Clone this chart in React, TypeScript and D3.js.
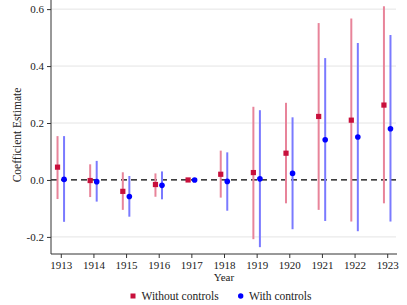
import {useEffect, useRef} from 'react';
import * as d3 from 'd3';

// data
const years = [1913, 1914, 1915, 1916, 1917, 1918, 1919, 1920, 1921, 1922, 1923];
const estNoCtrl = [0.045, -0.002, -0.04, -0.016, 0.0, 0.02, 0.026, 0.094, 0.223, 0.21, 0.263];
const loNoCtrl = [-0.067, -0.06, -0.105, -0.059, 0.0, -0.062, -0.208, -0.082, -0.105, -0.146, -0.082];
const hiNoCtrl = [0.154, 0.055, 0.027, 0.023, 0.0, 0.103, 0.257, 0.271, 0.551, 0.567, 0.61];
const estCtrl = [0.002, -0.006, -0.058, -0.019, 0.0, -0.005, 0.004, 0.023, 0.141, 0.151, 0.18];
const loCtrl = [-0.147, -0.076, -0.129, -0.068, 0.0, -0.108, -0.236, -0.173, -0.144, -0.18, -0.146];
const hiCtrl = [0.154, 0.067, 0.014, 0.03, 0.0, 0.097, 0.245, 0.22, 0.428, 0.481, 0.509];
const yTicks = [-0.2, 0.0, 0.2, 0.4, 0.6];

// parameters
const width = 407;
const height = 305;
const left = 51;
const right = 397;
const top = 0;
const bottom = 254;
const offset = 0.1;
const font = '"Liberation Serif", serif';
const red = '#c8103c';
const blue = '#0000ff';

export default function App() {
  const ref = useRef(null);
  useEffect(() => {
    if (!ref.current)
      return;
    const svg = d3.select(ref.current);
    svg.selectAll('*').remove();

    const x = d3.scaleLinear().domain([1912.7, 1923.3]).range([left, right]);
    const y = d3.scaleLinear().domain([-0.26, 0.632]).range([bottom, top]);

    // grid
    svg.append('g')
      .selectAll('line')
      .data(yTicks.filter(t => t !== 0))
      .enter()
      .append('line')
      .attr('x1', left)
      .attr('x2', right - 1)
      .attr('y1', d => y(d))
      .attr('y2', d => y(d))
      .attr('stroke', '#e4e4e4')
      .attr('stroke-width', 1);

    // zero line
    svg.append('line')
      .attr('x1', left)
      .attr('x2', right - 1)
      .attr('y1', y(0))
      .attr('y2', y(0))
      .attr('stroke', '#000')
      .attr('stroke-width', 1.2)
      .attr('stroke-dasharray', '6,4');

    // axes
    const yAxis = svg.append('g')
      .attr('transform', `translate(${left},0)`)
      .call(d3.axisLeft(y).tickValues(yTicks).tickFormat(d3.format('.1f')).tickSize(4).tickSizeOuter(0));
    yAxis.select('.domain').attr('stroke', '#333').attr('d', `M0,${top}V${bottom}`);
    yAxis.selectAll('.tick line').attr('stroke', '#333');
    yAxis.selectAll('text')
      .attr('font-family', font)
      .attr('font-size', 11)
      .attr('fill', '#222')
      .text(d => d3.format('.1f')(d as number).replace('−', '-'));

    const xAxis = svg.append('g')
      .attr('transform', `translate(0,${bottom})`)
      .call(d3.axisBottom(x).tickValues(years).tickFormat(d3.format('d')).tickSize(4).tickSizeOuter(0));
    xAxis.select('.domain').attr('stroke', '#333').attr('d', `M${left},0H${right}`);
    xAxis.selectAll('.tick line').attr('stroke', '#333');
    xAxis.selectAll('text')
      .attr('font-family', font)
      .attr('font-size', 11)
      .attr('fill', '#222')
      .attr('y', 15)
      .attr('dy', null);

    // confidence intervals
    const ci = (lo: number[], hi: number[], dx: number, color: string) => {
      svg.append('g')
        .selectAll('line')
        .data(years.map((yr, i) => ({yr, lo: lo[i], hi: hi[i]})).filter(d => d.hi !== d.lo))
        .enter()
        .append('line')
        .attr('x1', d => x(d.yr + dx))
        .attr('x2', d => x(d.yr + dx))
        .attr('y1', d => y(d.lo))
        .attr('y2', d => y(d.hi))
        .attr('stroke', color)
        .attr('stroke-width', 2);
    };
    ci(loNoCtrl, hiNoCtrl, -offset, '#e8849a');
    ci(loCtrl, hiCtrl, offset, '#7a7aff');

    // markers
    svg.append('g')
      .selectAll('rect')
      .data(years.map((yr, i) => ({yr, v: estNoCtrl[i]})))
      .enter()
      .append('rect')
      .attr('x', d => x(d.yr - offset) - 2.6)
      .attr('y', d => y(d.v) - 2.6)
      .attr('width', 5.2)
      .attr('height', 5.2)
      .attr('fill', red);
    svg.append('g')
      .selectAll('circle')
      .data(years.map((yr, i) => ({yr, v: estCtrl[i]})))
      .enter()
      .append('circle')
      .attr('cx', d => x(d.yr + offset))
      .attr('cy', d => y(d.v))
      .attr('r', 2.8)
      .attr('fill', blue);

    // titles
    svg.append('text')
      .attr('x', (left + right) / 2)
      .attr('y', 281)
      .attr('text-anchor', 'middle')
      .attr('font-family', font)
      .attr('font-size', 11)
      .attr('fill', '#222')
      .text('Year');
    svg.append('text')
      .attr('transform', `translate(21,${(top + bottom) / 2 + 8}) rotate(-90)`)
      .attr('text-anchor', 'middle')
      .attr('font-family', font)
      .attr('font-size', 11.5)
      .attr('fill', '#222')
      .text('Coefficient Estimate');

    // legend
    const legend = svg.append('g').attr('transform', 'translate(0,296)');
    legend.append('rect')
      .attr('x', 130.5).attr('y', -2.5).attr('width', 5).attr('height', 5).attr('fill', red);
    legend.append('text')
      .attr('x', 141.5).attr('y', 3.8)
      .attr('font-family', font).attr('font-size', 11.5).attr('fill', '#222')
      .text('Without controls');
    legend.append('circle')
      .attr('cx', 240.7).attr('cy', 0).attr('r', 2.7).attr('fill', blue);
    legend.append('text')
      .attr('x', 249).attr('y', 3.8)
      .attr('font-family', font).attr('font-size', 11.5).attr('fill', '#222')
      .text('With controls');
  }, [ref]);
  return <svg
    ref={ref}
    width={width}
    height={height}
    style={{position: 'absolute', left: 0, top: 0, background: '#fff'}}
  />;
}
